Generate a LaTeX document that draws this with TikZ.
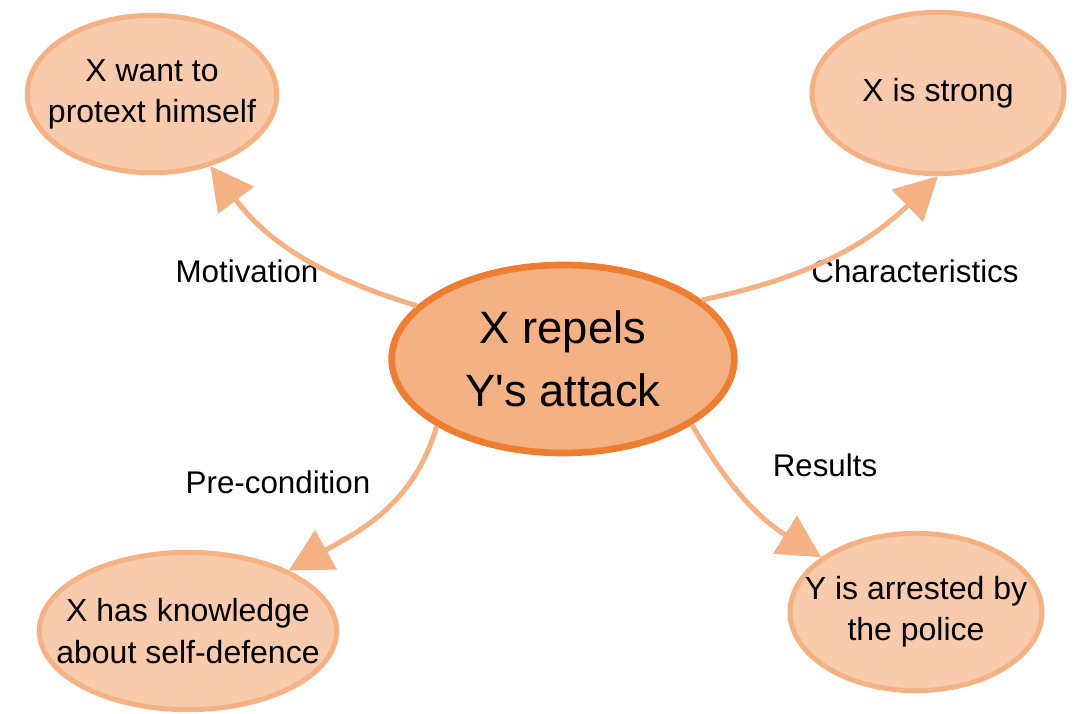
\documentclass[tikz,border=0pt]{standalone}
\usepackage{fontspec}
\setmainfont{Liberation Sans}
\usetikzlibrary{shapes.geometric,arrows.meta}
\definecolor{mainfill}{HTML}{F4B183}
\definecolor{mainline}{HTML}{ED7D31}
\definecolor{leaffill}{HTML}{F8CBAD}
\tikzset{
    topicnode/.style = {
        ellipse,
        align=center,
        inner xsep=-30pt,
        inner ysep=-10pt,
        fill=leaffill,
        draw=mainfill,
        line width=3.75pt,
        font=\fontsize{24}{31}\selectfont
    },
    mainnode/.style = {
        topicnode,
        fill=mainfill,
        draw=mainline,
        line width=5pt,
        font=\fontsize{34}{47}\selectfont
    },
    linklabel/.style = {
        inner sep=0pt,
        font=\fontsize{23.5}{28}\selectfont
    },
    link/.style = {
        draw=mainfill,
        line width=3.75pt,
        -{Triangle[length=32pt,width=33pt]}
    }
}
\begin{document}
\begin{tikzpicture}[x=0.75pt, y=0.75pt]
    \useasboundingbox (0,0) rectangle (1076,714);
    % centre and the four topics
    \node [mainnode, minimum width=257pt, minimum height=141pt] (main) at (563,355) {X repels\\Y\textquotesingle s attack};
    \node [topicnode, minimum width=187pt, minimum height=118pt] (want) at (152,620) {X want to\\protext himself};
    \node [topicnode, minimum width=189pt, minimum height=121pt] (strong) at (938,621) {X is strong};
    \node [topicnode, minimum width=223pt, minimum height=118pt] (know) at (188,83) {X has knowledge\\about self-defence};
    \node [topicnode, minimum width=189pt, minimum height=118pt] (arrest) at (916,102) {Y is arrested by\\the police};
    % labels of the links
    \node [linklabel] (motiv) at (247,443) {Motivation};
    \node [linklabel] (charac) at (915,443) {Characteristics};
    \node [linklabel] (precond) at (278,232) {Pre-condition};
    \node [linklabel] (result) at (825,249) {Results};
    % links
    \draw [link] (main.160) to[out=163, in=-53] (want.-51);
    \draw [link] (main.23.6) to[out=12, in=-136] (strong.-90);
    \draw [link] (main.208) to[out=254, in=29] (know.31);
    \draw [link] (main.-27.6) to[out=-60, in=148] (arrest.150);
\end{tikzpicture}
\end{document}
